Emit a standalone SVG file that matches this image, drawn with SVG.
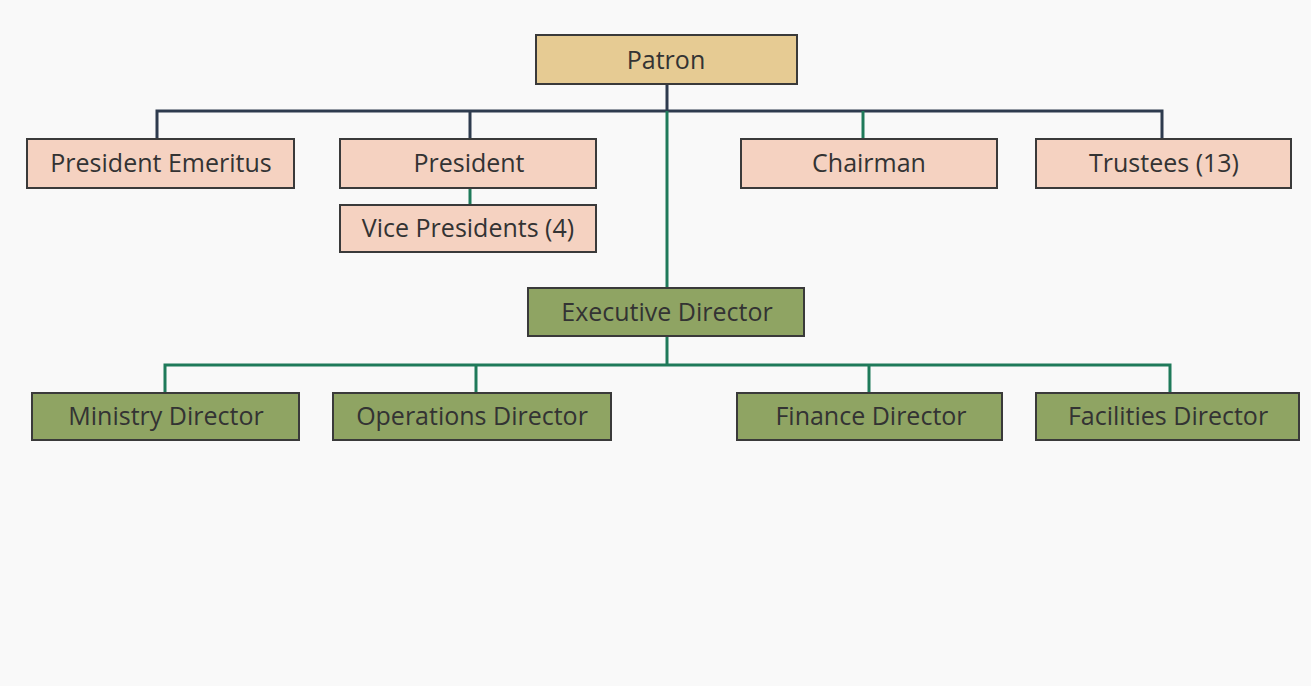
<svg xmlns="http://www.w3.org/2000/svg" width="1311" height="686" viewBox="0 0 1311 686">
<style>
.box{stroke:#3a3a3a;stroke-width:2}
.gold{fill:#e6cb93}
.peach{fill:#f5d2c1}
.green{fill:#8fa463}
text{font-family:"Open Sans","Liberation Sans",sans-serif;font-size:25px;font-weight:500;fill:#333;text-anchor:middle;dominant-baseline:central}
.navy{stroke:#2e3b4e;stroke-width:3;fill:none}
.teal{stroke:#1f7a5a;stroke-width:3;fill:none}
</style>
<rect width="1311" height="686" fill="#f9f9f9"/>
<g id="connectors">
<path class="navy" d="M157,139 V111 H1162 V139"/>
<path class="navy" d="M470,111 V139"/>
<path class="navy" d="M667,84 V111"/>
<path class="teal" d="M863,111 V139"/>
<path class="teal" d="M667,111 V288"/>
<path class="teal" d="M470,188 V205"/>
<path class="teal" d="M165,393 V365 H1170 V393"/>
<path class="teal" d="M476,365 V393"/>
<path class="teal" d="M869,365 V393"/>
<path class="teal" d="M667,336 V365"/>
</g>
<g id="patron"><rect class="box gold" x="536" y="35" width="261" height="49"/><text x="666" y="59">Patron</text></g>
<g id="president-emeritus"><rect class="box peach" x="27" y="139" width="267" height="49"/><text x="161" y="162">President Emeritus</text></g>
<g id="president"><rect class="box peach" x="340" y="139" width="256" height="49"/><text x="469" y="162">President</text></g>
<g id="vice-presidents"><rect class="box peach" x="340" y="205" width="256" height="47"/><text x="468" y="227">Vice Presidents (4)</text></g>
<g id="chairman"><rect class="box peach" x="741" y="139" width="256" height="49"/><text x="869" y="162">Chairman</text></g>
<g id="trustees"><rect class="box peach" x="1036" y="139" width="255" height="49"/><text x="1164" y="162">Trustees (13)</text></g>
<g id="executive-director"><rect class="box green" x="528" y="288" width="276" height="48"/><text x="667" y="311">Executive Director</text></g>
<g id="ministry-director"><rect class="box green" x="32" y="393" width="267" height="47"/><text x="166" y="415">Ministry Director</text></g>
<g id="operations-director"><rect class="box green" x="333" y="393" width="278" height="47"/><text x="472" y="415">Operations Director</text></g>
<g id="finance-director"><rect class="box green" x="737" y="393" width="265" height="47"/><text x="871" y="415">Finance Director</text></g>
<g id="facilities-director"><rect class="box green" x="1036" y="393" width="263" height="47"/><text x="1168" y="415">Facilities Director</text></g>
</svg>
